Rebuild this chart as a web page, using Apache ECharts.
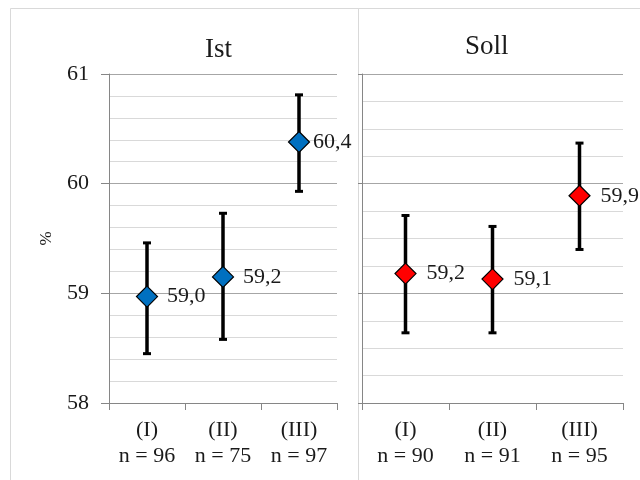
<!DOCTYPE html>
<html>
<head>
<meta charset="utf-8">
<script src="https://cdn.jsdelivr.net/npm/echarts@6/dist/echarts.min.js"></script>
<style>html,body{margin:0;padding:0;background:#fff}#c{width:640px;height:480px}</style>
</head>
<body>
<div id="c"></div>
<script>
var categoriesIst = ['(I)\nn = 96', '(II)\nn = 75', '(III)\nn = 97'];
var categoriesSoll = ['(I)\nn = 90', '(II)\nn = 91', '(III)\nn = 95'];
var istMean = [58.97, 59.15, 60.38];
var istLow = [58.45, 58.58, 59.93];
var istHigh = [59.46, 59.73, 60.81];
var istLabels = ['59,0', '59,2', '60,4'];
var sollMean = [59.18, 59.13, 59.89];
var sollLow = [58.64, 58.64, 59.40];
var sollHigh = [59.71, 59.61, 60.37];
var sollLabels = ['59,2', '59,1', '59,9'];
var yTicks = [58, 59, 60, 61];

var FONT = 'Liberation Serif';
var TXT = '#1a1a1a';
var AX = '#868686';

function errRender(params, api) {
  var x = api.value(0);
  var lo = api.coord([x, api.value(1)]);
  var hi = api.coord([x, api.value(2)]);
  return {
    type: 'group',
    children: [
      {type: 'line', shape: {x1: lo[0], y1: lo[1], x2: hi[0], y2: hi[1]}, style: {stroke: '#000', lineWidth: 3.5}},
      {type: 'line', shape: {x1: lo[0] - 4, y1: lo[1], x2: lo[0] + 4, y2: lo[1]}, style: {stroke: '#000', lineWidth: 3}},
      {type: 'line', shape: {x1: hi[0] - 4, y1: hi[1], x2: hi[0] + 4, y2: hi[1]}, style: {stroke: '#000', lineWidth: 3}}
    ]
  };
}

function yAxisCfg(idx, showLabels, minorSplit, tickLen) {
  return {
    type: 'value', gridIndex: idx, min: 58, max: 61, interval: 1,
    name: showLabels ? '%' : '',
    nameLocation: 'middle', nameGap: 54, nameRotate: 90,
    nameTextStyle: {fontFamily: FONT, fontSize: 17, color: TXT},
    axisLine: {show: true, lineStyle: {color: AX, width: 1}},
    axisTick: {show: true, length: tickLen, lineStyle: {color: AX}},
    axisLabel: {show: showLabels, fontFamily: FONT, fontSize: 22, color: TXT, margin: 20,
      formatter: function (v) { return yTicks.indexOf(v) >= 0 ? String(v) : ''; }},
    splitLine: {show: true, lineStyle: {color: '#a6a6a6', width: 1}},
    minorTick: {show: false, splitNumber: minorSplit},
    minorSplitLine: {show: true, lineStyle: {color: '#d9d9d9', width: 1}}
  };
}

function xAxisCfg(idx, cats) {
  return {
    type: 'category', gridIndex: idx, data: cats, boundaryGap: true,
    axisLine: {show: true, lineStyle: {color: AX, width: 1}},
    axisTick: {show: true, length: 7, lineStyle: {color: AX}},
    axisLabel: {interval: 0, fontFamily: FONT, fontSize: 22, color: TXT, lineHeight: 26, margin: 14},
    splitLine: {show: false}
  };
}

function errData(low, high) {
  return low.map(function (l, i) { return [i, l, high[i]]; });
}
function meanData(mean, labels, dists) {
  return mean.map(function (m, i) {
    return {value: [i, m], label: {formatter: labels[i], distance: dists[i]}};
  });
}

var chart = echarts.init(document.getElementById('c'), null, {renderer: 'canvas'});
chart.setOption({
  animation: false,
  backgroundColor: '#fff',
  graphic: [
    {type: 'rect', shape: {x: 10.5, y: 8.5, width: 348, height: 480}, style: {fill: 'none', stroke: '#d9d9d9', lineWidth: 1}, z: -10},
    {type: 'rect', shape: {x: 358.5, y: 8.5, width: 290, height: 480}, style: {fill: 'none', stroke: '#d9d9d9', lineWidth: 1}, z: -10}
  ],
  title: [
    {text: 'Ist', left: 200, top: 31, textStyle: {fontFamily: FONT, fontSize: 27, fontWeight: 'normal', color: TXT}},
    {text: 'Soll', left: 460, top: 28, textStyle: {fontFamily: FONT, fontSize: 27, fontWeight: 'normal', color: TXT}}
  ],
  grid: [
    {left: 109, top: 74, width: 228, height: 329},
    {left: 362, top: 74, width: 261, height: 329}
  ],
  xAxis: [xAxisCfg(0, categoriesIst), xAxisCfg(1, categoriesSoll)],
  yAxis: [yAxisCfg(0, true, 5, 8), yAxisCfg(1, false, 4, 4)],
  series: [
    {type: 'custom', xAxisIndex: 0, yAxisIndex: 0, renderItem: errRender, data: errData(istLow, istHigh), z: 2,
      encode: {x: 0, y: [1, 2]}},
    {type: 'custom', xAxisIndex: 1, yAxisIndex: 1, renderItem: errRender, data: errData(sollLow, sollHigh), z: 2,
      encode: {x: 0, y: [1, 2]}},
    {type: 'scatter', xAxisIndex: 0, yAxisIndex: 0, symbol: 'diamond', symbolSize: [21, 21], z: 5,
      itemStyle: {color: '#0070C0', borderColor: '#000', borderWidth: 1.2, opacity: 1},
      label: {show: true, position: 'right', fontFamily: FONT, fontSize: 22, color: TXT},
      data: meanData(istMean, istLabels, [9, 9, 3])},
    {type: 'scatter', xAxisIndex: 1, yAxisIndex: 1, symbol: 'diamond', symbolSize: [21, 21], z: 5,
      itemStyle: {color: '#FF0000', borderColor: '#000', borderWidth: 1.2, opacity: 1},
      label: {show: true, position: 'right', fontFamily: FONT, fontSize: 22, color: TXT},
      data: meanData(sollMean, sollLabels, [10, 10, 10])}
  ]
});
</script>
</body>
</html>
